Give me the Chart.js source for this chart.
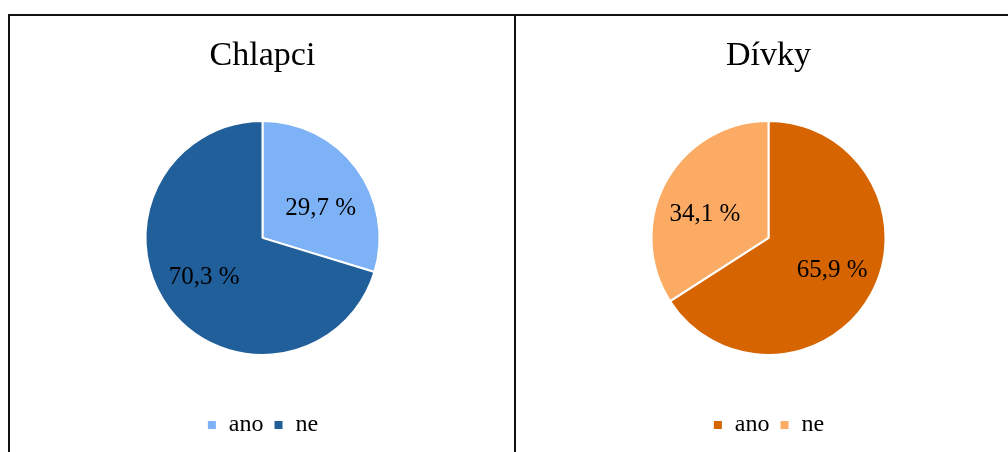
<!DOCTYPE html>
<html>
<head>
<meta charset="utf-8">
<script src="https://cdn.jsdelivr.net/npm/chart.js@4/dist/chart.umd.min.js"></script>
<style>
  html, body { margin: 0; padding: 0; background: #fff; overflow: hidden; width: 1008px; height: 452px; }
  .panel { position: absolute; top: 14px; height: 460px; border-top: 2px solid #111; border-left: 2px solid #111; }
  #p1 { left: 8px; width: 505px; }
  #p2 { left: 514px; width: 505px; }
  .panel canvas { position: absolute; left: 0; top: 0; }
</style>
</head>
<body>
<div class="panel" id="p1"><canvas id="chlapci" width="505" height="436"></canvas></div>
<div class="panel" id="p2"><canvas id="divky" width="505" height="436"></canvas></div>
<script>
const kategorie = ['ano', 'ne'];
const chlapciHodnoty = [29.7, 70.3];
const divkyHodnoty = [65.9, 34.1];
const chlapciBarvy = ['#7eb2f6', '#215f9a'];
const divkyBarvy = ['#d56401', '#fcab64'];

const PISMO = "'Liberation Serif', 'Times New Roman', serif";

// popisky procent uvnitř výsečí (trochu víc do stran, jako v Excelu)
const popiskyPlugin = {
    id: 'popisky',
    afterDatasetsDraw(chart) {
        const ctx = chart.ctx;
        const meta = chart.getDatasetMeta(0);
        const data = chart.data.datasets[0].data;
        ctx.save();
        ctx.font = '25px ' + PISMO;
        ctx.fillStyle = '#000';
        ctx.textAlign = 'center';
        ctx.textBaseline = 'middle';
        meta.data.forEach((arc, i) => {
            const p = arc.getProps(['x', 'y', 'startAngle', 'endAngle', 'outerRadius']);
            const uhel = (p.startAngle + p.endAngle) / 2;
            const x = p.x + Math.cos(uhel) * p.outerRadius * 0.62;
            const y = p.y + Math.sin(uhel) * p.outerRadius * 0.5 + 5;
            ctx.fillText(data[i].toFixed(1).replace('.', ',') + ' %', x, y);
        });
        ctx.restore();
    }
};

function vytvorGraf(id, nazev, hodnoty, barvy) {
    return new Chart(document.getElementById(id), {
        type: 'pie',
        data: {
            labels: kategorie,
            datasets: [{
                data: hodnoty,
                backgroundColor: barvy,
                borderColor: '#ffffff',
                borderWidth: 2,
                radius: 117
            }]
        },
        options: {
            responsive: false,
            animation: false,
            layout: { padding: { bottom: 5 } },
            plugins: {
                title: {
                    display: true,
                    text: nazev,
                    color: '#000',
                    font: { family: PISMO, size: 34, weight: 'normal' },
                    padding: { top: 20, bottom: -4 }
                },
                legend: {
                    position: 'bottom',
                    labels: {
                        color: '#000',
                        font: { family: PISMO, size: 24 },
                        boxWidth: 10,
                        boxHeight: 10,
                        padding: 10
                    }
                },
                tooltip: { enabled: false }
            }
        },
        plugins: [popiskyPlugin]
    });
}

vytvorGraf('chlapci', 'Chlapci', chlapciHodnoty, chlapciBarvy);
vytvorGraf('divky', 'Dívky', divkyHodnoty, divkyBarvy);
</script>
</body>
</html>
